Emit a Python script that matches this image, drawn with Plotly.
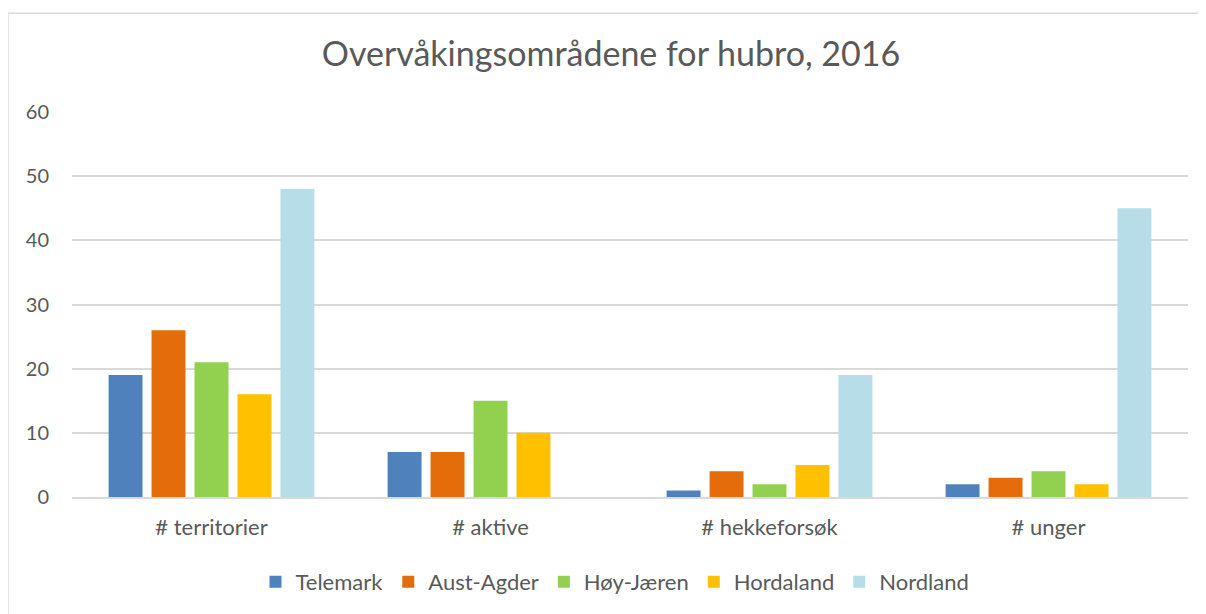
import plotly.graph_objects as go

categories = ["# territorier", "# aktive", "# hekkeforsøk", "# unger"]
series_names = ["Telemark", "Aust-Agder", "Høy-Jæren", "Hordaland", "Nordland"]
telemark = [19, 7, 1, 2]
aust_agder = [26, 7, 4, 3]
hoy_jaeren = [21, 15, 2, 4]
hordaland = [16, 10, 5, 2]
nordland = [48, None, 19, 45]
colors = ["#4f81bd", "#e46c0a", "#92d050", "#ffc000", "#b7dde8"]
y_ticks = [0, 10, 20, 30, 40, 50, 60]

OFF = 8  # page body margin
W, H = 1206 - OFF, 614 - OFF
# plot area in reference page pixels
PX0, PX1, PY0, PY1 = 72, 1188, 112, 498
L, R, T = PX0 - OFF, W - (PX1 - OFF), PY0 - OFF
B = H - (PY1 - OFF)
pw, ph = W - L - R, H - T - B

font_family = "Lato, 'Open Sans', sans-serif"
text_color = "#595959"

fig = go.Figure()
for name, vals, col in zip(series_names, [telemark, aust_agder, hoy_jaeren, hordaland, nordland], colors):
    fig.add_trace(go.Bar(x=categories, y=vals, name=name, marker=dict(color=col, line=dict(width=0))))

def px_x(x):
    return (x - OFF - L) / pw

def px_y(y):
    return (PY1 - y) / ph

fig.update_layout(
    width=W, height=H,
    margin=dict(l=L, r=R, t=T, b=B),
    paper_bgcolor="white", plot_bgcolor="white",
    barmode="group", bargap=0.23, bargroupgap=0.21,
    title=dict(text="Overvåkingsområdene for hubro, 2016", x=(611 - OFF) / W, xanchor="center",
               y=1 - (54 - OFF) / H, yanchor="middle",
               font=dict(family=font_family, size=34, color=text_color)),
    font=dict(family=font_family, color=text_color),
    showlegend=True,
    legend=dict(orientation="h", x=px_x(615), xanchor="center",
                y=px_y(582), yanchor="middle",
                font=dict(family=font_family, size=22, color=text_color),
                itemwidth=30, traceorder="normal", itemclick=False),
    xaxis=dict(showgrid=False, showline=True, linecolor="#d9d9d9", linewidth=1.5,
               ticks="", tickfont=dict(size=22, color=text_color), ticklabelstandoff=10),
    yaxis=dict(range=[0, 60], tickvals=y_ticks, showgrid=True, gridcolor="#d9d9d9", gridwidth=1.5,
               zeroline=False, showline=False, ticks="",
               tickfont=dict(size=20, color=text_color), ticklabelstandoff=22),
    shapes=[dict(type="rect", xref="paper", yref="paper",
                 x0=px_x(8), x1=px_x(1230), y0=px_y(13), y1=px_y(640),
                 line=dict(color="#d9d9d9", width=1.5), fillcolor="rgba(0,0,0,0)", layer="below")],
)

fig.write_html("out.html")
